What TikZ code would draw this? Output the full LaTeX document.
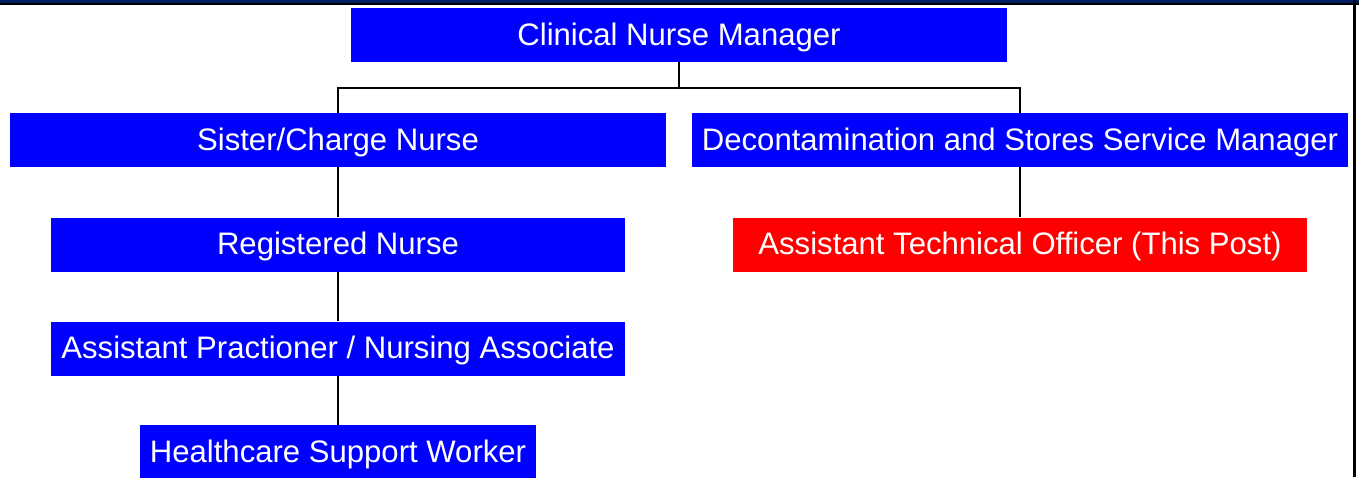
\documentclass[tikz,border=0pt]{standalone}
\usepackage{fontspec}
\setmainfont{Liberation Sans}
\usetikzlibrary{positioning}

\definecolor{boxblue}{RGB}{0,0,255}
\definecolor{boxred}{RGB}{255,0,0}
\definecolor{topnavy}{RGB}{0,32,96}

\begin{document}
\begin{tikzpicture}[x=1pt, y=-1pt,
    post/.style={fill=boxblue, text=white, inner sep=0pt, minimum height=54pt,
                 text height=22pt, text depth=2pt,
                 font=\fontsize{31.1}{36}\selectfont},
    thispost/.style={post, fill=boxred},
    link/.style={line width=2pt, black}]

    % Page size
    \def\pgw{1359}
    \def\pgh{477}
    \def\wa{656pt}   % wide boxes
    \def\wb{574pt}   % middle boxes
    \def\wc{396pt}   % bottom box

    \useasboundingbox (0,0) rectangle (\pgw,\pgh);
    \clip (0,0) rectangle (\pgw,\pgh);

    % Frame, top and right
    \fill[topnavy] (0,0) rectangle (\pgw,3);
    \fill[black] (0,3) rectangle (\pgw,5);
    \fill[black] (1353,0) rectangle (1356,\pgh);

    % Posts
    \node[post, minimum width=\wa] (cnm)    at (679,35)    {Clinical Nurse Manager};
    \node[post, minimum width=\wa] (sister) at (338,140)   {Sister/Charge Nurse};
    \node[post, minimum width=\wa] (decon)  at (1020,140)  {Decontamination and Stores Service Manager};
    \node[post, minimum width=\wb] (rn)     at (338,244.5) {Registered Nurse};
    \node[thispost, minimum width=\wb] (ato) at (1020,244.5) {Assistant Technical Officer (This Post)};
    \node[post, minimum width=\wb] (ap)     at (338,348.5) {Assistant Practioner / Nursing Associate};
    \node[post, minimum width=\wc] (hsw)    at (338,452)   {Healthcare Support Worker};

    % Lines
    \coordinate (fork) at (679,88);
    \draw[link] (cnm.south) -- (fork);
    \draw[link] (fork) -| (sister.north);
    \draw[link] (fork) -| (decon.north);
    \draw[link] (sister.south) -- (rn.north);
    \draw[link] (rn.south) -- (ap.north);
    \draw[link] (ap.south) -- (hsw.north);
    \draw[link] (decon.south) -- (ato.north);

\end{tikzpicture}
\end{document}
